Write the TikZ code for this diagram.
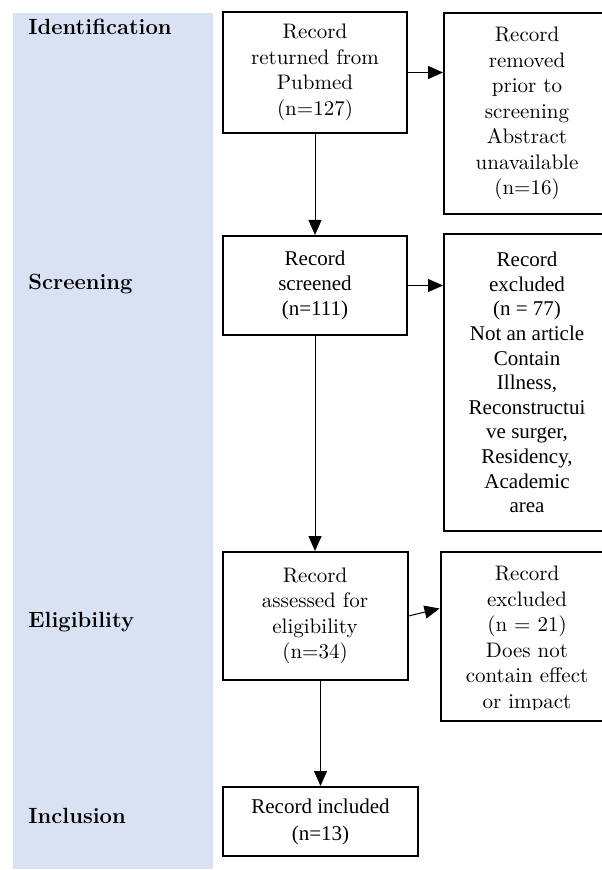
\documentclass[tikz,border=0pt]{standalone}
\usepackage{fontspec}
\usepackage{xcolor}
\usepackage{tikz}
\usetikzlibrary{shapes.geometric, arrows.meta}
\newfontfamily\timesfont{Liberation Serif}
\definecolor{bandblue}{HTML}{D9E2F3}
\tikzstyle{block} = [rectangle, minimum width=92pt, inner sep=0pt, text centered, align=center, draw=black, line width=1pt, fill=white, font=\fontsize{10.5}{12.75}\selectfont]
\tikzstyle{block2} = [block, font=\timesfont\fontsize{10.5}{12.3}\selectfont]
\tikzstyle{side} = [block, minimum width=83pt]
\tikzstyle{side2} = [block2, minimum width=83pt]
\tikzstyle{stage} = [anchor=base west, inner sep=0pt, font=\bfseries\fontsize{11}{13}\selectfont]
\tikzstyle{arrow} = [line width=0.5pt,-{Triangle[length=7.5pt,width=6.5pt]}]

\begin{document}
\begin{tikzpicture}[node distance=106pt]
        \useasboundingbox (0,0) rectangle (300.5pt,-435pt);
        \fill[bandblue] (6.5pt,-6.5pt) rectangle (106.5pt,-434.5pt);

        \node (lid) [stage] at (14pt,-17.5pt) {Identification};
        \node (lscr) [stage] at (14pt,-145pt) {Screening};
        \node (lelig) [stage] at (14pt,-313.5pt) {Eligibility};
        \node (lincl) [stage] at (14pt,-411.5pt) {Inclusion};

        \node (rec) [block, minimum height=60.5pt] at (157.5pt,-36.25pt) {Record\\returned from\\Pubmed\\(n=127)};
        \node (rem) [side, right of=rec, yshift=-20.5pt, minimum height=100.5pt] {Record\\removed\\prior to\\screening\\Abstract\\unavailable\\(n=16)};
        \node (scr) [block2, below of=rec, yshift=-0.5pt, minimum height=49.5pt] {Record\\screened\\(n=111)};
        \node (exc1) [side2, right of=scr, yshift=-48.5pt, minimum height=148.5pt] {Record\\excluded\\(n = 77)\\Not an article\\Contain\\Illness,\\Reconstructui\\ve surger,\\Residency,\\Academic\\area};
        \node (ass) [block, below of=scr, yshift=-59.25pt, minimum width=92.5pt, minimum height=64pt] {Record\\assessed for\\eligibility\\(n=34)};
        \node (exc2) [side, right of=ass, yshift=-10.25pt, minimum width=86.5pt, minimum height=84.5pt] {};
        \begin{scope}
            \clip (exc2.north west) rectangle ([yshift=6.5pt]exc2.south east);
            \node (exc2txt) [align=center, inner sep=0pt, font=\fontsize{10.5}{12.75}\selectfont, yshift=-1.25pt] at (exc2) {Record\\excluded\\(n = 21)\\Does not\\contain effect\\or impact};
        \end{scope}
        \node (inc) [block2, below of=ass, yshift=3.25pt, xshift=2.75pt, minimum width=97.5pt, minimum height=34.5pt, font=\timesfont\fontsize{10.5}{13.5}\selectfont] {Record included\\(n=13)};

        \draw [arrow] (rec.east) -- (rec.east -| rem.west);
        \draw [arrow] (rec) -- (scr);
        \draw [arrow] (scr.east) -- (scr.east -| exc1.west);
        \draw [arrow] (scr) -- (ass);
        \draw [arrow] (ass.east) -- ([yshift=14pt]exc2.west);
        \draw [arrow] (ass.south -| inc.north) -- (inc.north);
\end{tikzpicture}
\end{document}
